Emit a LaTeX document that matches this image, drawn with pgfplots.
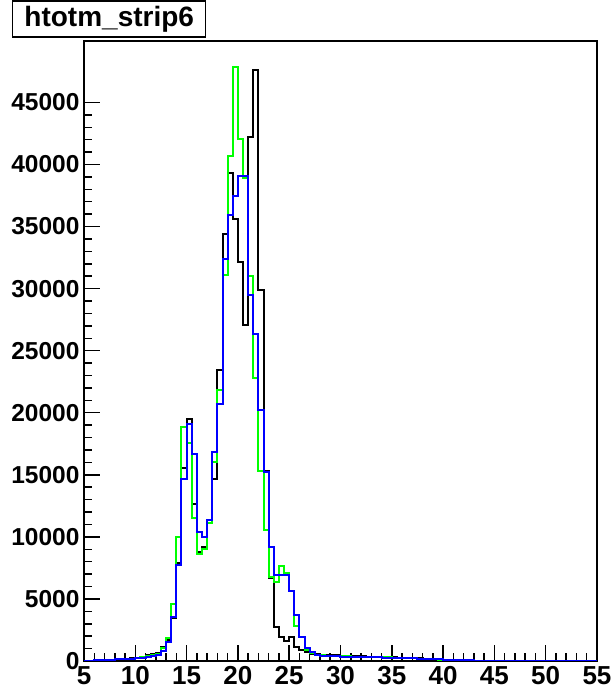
\documentclass[border=0pt]{standalone}
\usepackage{fontspec}
\setmainfont{Liberation Sans}
\usepackage{pgfplots}
\usepackage{pgfplotstable}
\pgfplotsset{compat=1.18}
\usetikzlibrary{calc}
\definecolor{rootgreen}{rgb}{0,1,0}
\definecolor{rootblue}{rgb}{0,0,1}

% bin left edges (width 0.5), last row closes the step at 55
\pgfplotstableread{
x    k     g     b
5.0  20    20    20
5.5  40    35    35
6.0  60    50    50
6.5  80    70    70
7.0  100   90    90
7.5  120   110   110
8.0  150   130   130
8.5  180   150   150
9.0  200   170   170
9.5  230   200   200
10.0 280   250   230
10.5 330   300   270
11.0 450   380   330
11.5 550   480   400
12.0 684   600   483
12.5 1154  1020  832
13.0 1690  1825  1556
13.5 3435  4589  3569
14.0 7862  10007 7728
14.5 15509 18864 14625
15.0 19481 17576 19133
15.5 12639 11485 16716
16.0 8800  8614  10409
16.5 9204  8990  9958
17.0 11082 11082 11350
17.5 14625 16046 16850
18.0 23425 21815 20742
18.5 34374 31073 32361
19.0 39308 40652 35958
19.5 35637 47843 37459
20.0 32145 42021 39043
20.5 27048 38900 39043
21.0 42209 30993 29463
21.5 47576 22837 26379
22.0 29920 15320 20258
22.5 15300 10545 15240
23.0 6655  6788  9150
23.5 2764  6387  6948
24.0 1905  7648  6948
24.5 1637  7111  6948
25.0 1959  5600  5660
25.5 1154  2818  3703
26.0 850   1959  1959
26.5 700   880   1073
27.0 600   650   750
27.5 540   520   483
28.0 500   450   420
28.5 480   430   400
29.0 470   410   380
29.5 460   395   370
30.0 440   380   360
30.5 420   370   350
31.0 400   360   340
31.5 390   350   330
32.0 370   340   320
32.5 360   330   310
33.0 340   320   300
33.5 330   310   290
34.0 320   300   280
34.5 310   290   270
35.0 300   280   260
35.5 280   265   250
36.0 260   250   235
36.5 250   235   220
37.0 230   220   205
37.5 210   200   190
38.0 190   180   175
38.5 170   160   160
39.0 150   140   145
39.5 130   120   130
40.0 110   100   115
40.5 100   85    100
41.0 80    70    85
41.5 70    55    70
42.0 55    42    55
42.5 45    30    42
43.0 35    20    30
43.5 25    12    20
44.0 15    6     12
44.5 10    3     6
45.0 0     0     0
45.5 0     0     0
46.0 0     0     0
46.5 0     0     0
47.0 0     0     0
47.5 0     0     0
48.0 0     0     0
48.5 0     0     0
49.0 0     0     0
49.5 0     0     0
50.0 0     0     0
50.5 0     0     0
51.0 0     0     0
51.5 0     0     0
52.0 0     0     0
52.5 0     0     0
53.0 0     0     0
53.5 0     0     0
54.0 0     0     0
54.5 0     0     0
55.0 0     0     0
}\hist

\begin{document}
\begin{tikzpicture}
  \begin{axis}[
    scale only axis,
    width=513pt,
    height=620pt,
    xmin=5, xmax=55,
    ymin=0, ymax=49950,
    enlargelimits=false,
    axis line style={line width=1.5pt},
    xtick={5,10,...,55},
    ytick={0,5000,...,45000},
    minor x tick num=4,
    minor y tick num=4,
    xtick pos=bottom,
    ytick pos=left,
    tick align=inside,
    major tick length=16pt,
    minor tick length=8pt,
    every tick/.style={black, line width=1.5pt},
    scaled ticks=false,
    /pgf/number format/.cd, 1000 sep={}, assume math mode=true, /pgfplots/.cd,
    yticklabel style={font=\bfseries\fontsize{24.5}{24.5}\selectfont, xshift=-1pt},
    xticklabel style={font=\bfseries\fontsize{26}{26}\selectfont, inner sep=1pt, yshift=-4pt},
    title={htotm\_strip6},
    title style={at={(axis description cs:-0.1404,1)}, anchor=south west,
      yshift=-3pt, draw, line width=1.5pt, fill=white,
      minimum width=193pt, minimum height=36pt, inner sep=0pt,
      font=\bfseries\fontsize{28}{28}\selectfont},
  ]
    \addplot[const plot, black, line width=2pt] table[x=x, y=k] {\hist};
    \addplot[const plot, rootgreen, line width=2pt] table[x=x, y=g] {\hist};
    \addplot[const plot, rootblue, line width=2pt] table[x=x, y=b] {\hist};
  \end{axis}
  \coordinate (bl) at ($(current axis.south west)+(-84pt,-30pt)$);
  \coordinate (tr) at ($(current axis.north east)+(14pt,41pt)$);
  \pgfresetboundingbox
  \path (bl) rectangle (tr);
\end{tikzpicture}
\end{document}
